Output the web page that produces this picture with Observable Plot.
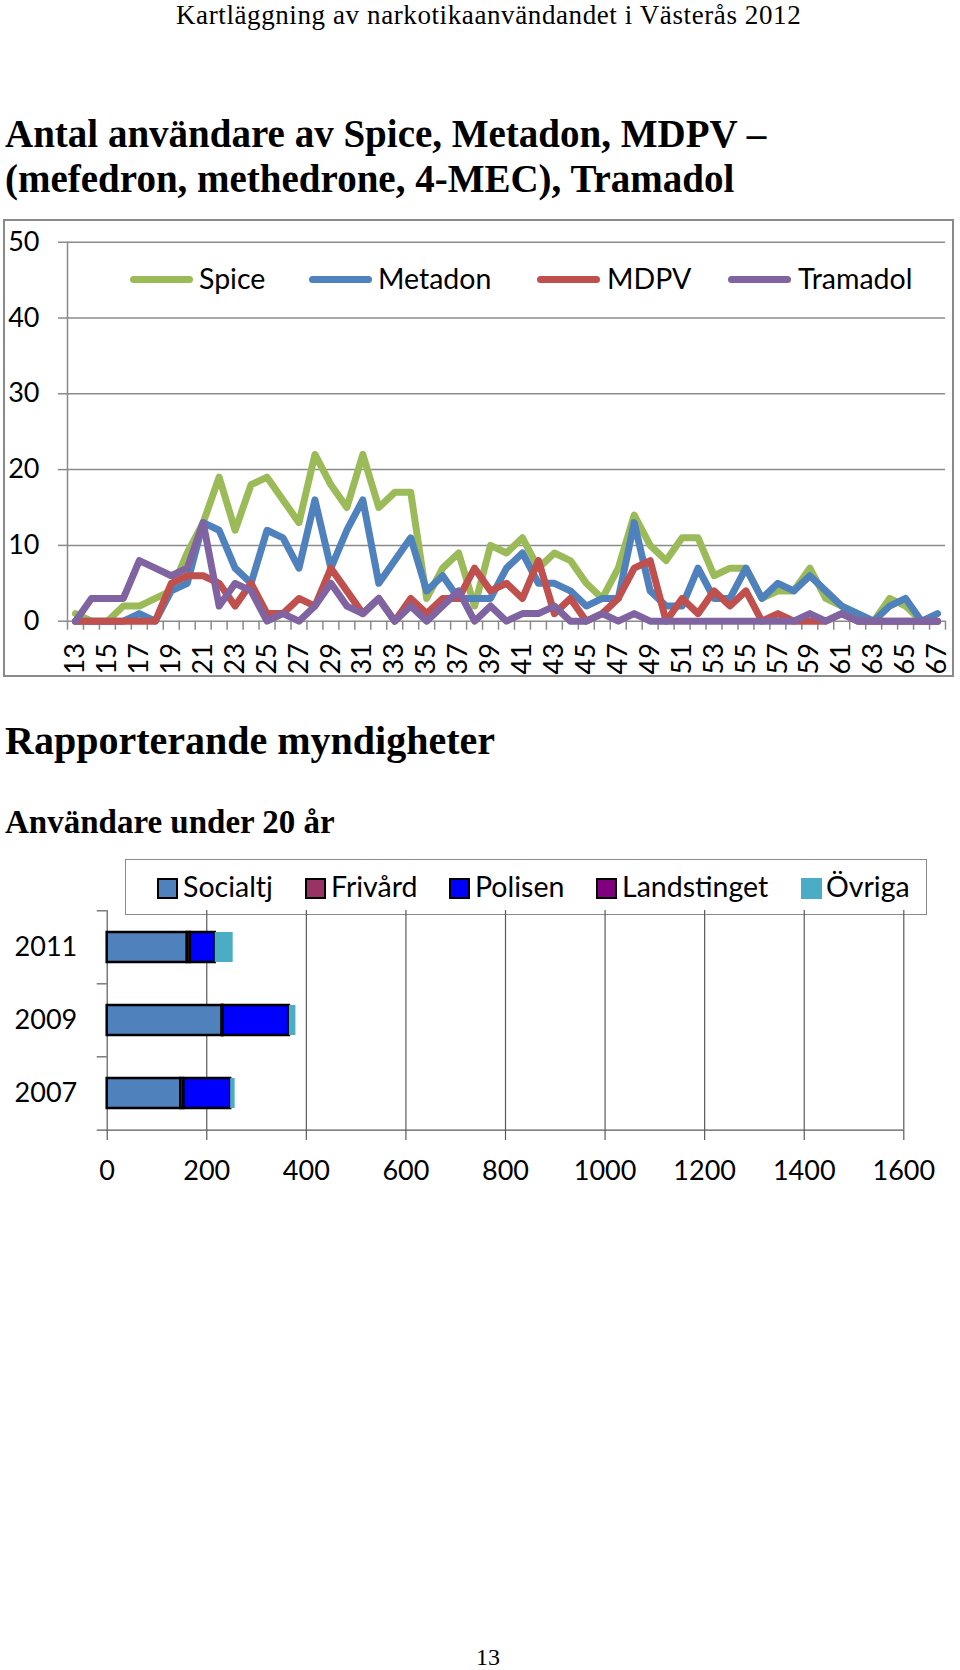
<!DOCTYPE html>
<html><head><meta charset="utf-8">
<script src="https://cdn.jsdelivr.net/npm/d3@7"></script>
<script src="https://cdn.jsdelivr.net/npm/@observablehq/plot@0.6"></script>
<style>
body{margin:0;background:#fff;}
#page{position:relative;width:960px;height:1670px;overflow:hidden;font-family:"Liberation Serif","Times New Roman",serif;color:#000;}
.abs{position:absolute;white-space:nowrap;line-height:1;}
.sans{font-family:Lato,sans-serif;font-size:28.5px;}
.lg-line{position:absolute;height:7px;border-radius:3.5px;}
.sw{position:absolute;width:17px;height:17px;border:2px solid #000;}
svg{position:absolute;left:0;overflow:visible;}
</style></head><body><div id="page">
<div class="abs" id="hdr" style="left:176px;top:2.4px;font-size:27px;letter-spacing:0.6px;">Kartläggning av narkotikaanvändandet i Västerås 2012</div>
<div class="abs" style="left:5px;top:113.8px;font-size:39px;font-weight:bold;">Antal användare av Spice, Metadon, MDPV –</div>
<div class="abs" style="left:5px;top:158.8px;font-size:39px;font-weight:bold;">(mefedron, methedrone, 4-MEC), Tramadol</div>
<div class="abs" style="left:3px;top:219px;width:947px;height:454px;border:2px solid #8a8a8a;"></div>
<div id="lg1"></div>
<div class="abs" style="left:5px;top:721.3px;font-size:40px;font-weight:bold;">Rapporterande myndigheter</div>
<div class="abs" style="left:5px;top:805.5px;font-size:33px;font-weight:bold;">Användare under 20 år</div>
<div class="abs" style="left:125px;top:859px;width:800px;height:54px;border:1.5px solid #8a8a8a;"></div>
<div id="lg2"></div>
<div id="c1"></div>
<div id="c2"></div>
<div class="abs" style="left:476px;top:1645px;font-size:24px;">13</div>
</div>
<script>
// ---- Chart 1 data ----
const ages = [13,14,15,16,17,18,19,20,21,22,23,24,25,26,27,28,29,30,31,32,33,34,35,36,37,38,39,40,41,42,43,44,45,46,47,48,49,50,51,52,53,54,55,56,57,58,59,60,61,62,63,64,65,66,67];
const spice    = [1,0,0,2,2,3,4,9,13,19,12,18,19,16,13,22,18,15,22,15,17,17,3,7,9,2,10,9,11,7,9,8,5,3,7,14,10,8,11,11,6,7,7,3,4,4,7,3,2,1,0,3,2,0,0];
const metadon  = [0,0,0,0,1,0,4,5,13,12,7,5,12,11,7,16,7,12,16,5,8,11,4,6,3,3,3,7,9,5,5,4,2,3,3,13,4,2,2,7,3,3,7,3,5,4,6,4,2,1,0,2,3,0,1];
const mdpv     = [0,0,0,0,0,0,5,6,6,5,2,5,1,1,3,2,7,4,1,3,0,3,1,3,3,7,4,5,3,8,1,3,0,1,3,7,8,0,3,1,4,2,4,0,1,0,0,0,1,0,0,0,0,0,0];
const tramadol = [0,3,3,3,8,7,6,7,13,2,5,4,0,1,0,2,5,2,1,3,0,2,0,2,4,0,2,0,1,1,2,0,0,1,0,1,0,0,0,0,0,0,0,0,0,0,1,0,1,0,0,0,0,0,0];
const seriesNames = ["Spice","Metadon","MDPV","Tramadol"];
const seriesColors = ["#9bbb59","#4f81bd","#c0504d","#8064a2"];
const yTicks1 = [0,10,20,30,40,50];

// ---- Chart 2 data ----
const years = ["2011","2009","2007"];
const sources = ["Socialtj","Frivård","Polisen","Landstinget","Övriga"];
const sourceColors = ["#4f81bd","#993366","#0000ff","#800080","#4bacc6"];
const socialtj    = [161,231,148];
const frivard     = [6,2,6];
const polisen     = [50,133,94];
const landstinget = [0,0,0];
const ovriga      = [36,13,9];
const xTicks2 = [0,200,400,600,800,1000,1200,1400,1600];

// ---- Chart 1 ----
const allSeries = [spice, metadon, mdpv, tramadol];
const lineData = seriesNames.flatMap((name, s) => ages.map((age, i) => ({age, value: allSeries[s][i], series: name})));
const bounds = ages.map(a => a - 0.5).concat([ages[ages.length - 1] + 0.5]);
const xLabels = ages.filter((a, i) => i % 2 === 0);
const grid = "#8a8a8a";

const c1 = Plot.plot({
  width: 960, height: 470,
  marginTop: 29.7, marginBottom: 61.3, marginLeft: 67, marginRight: 15,
  style: {fontFamily: "Lato", fontSize: "27px", background: "transparent", color: "black"},
  x: {domain: [bounds[0], bounds[bounds.length - 1]]},
  y: {domain: [0, 50]},
  color: {domain: seriesNames, range: seriesColors},
  marks: [
    Plot.ruleY(yTicks1, {stroke: grid, strokeWidth: 1.5}),
    Plot.axisY({ticks: yTicks1, tickSize: 9, tickPadding: 19, stroke: grid, strokeWidth: 1.5, label: null, tickFormat: d => String(d)}),
    Plot.ruleX([bounds[0]], {stroke: grid, strokeWidth: 1.5}),
    Plot.axisX({ticks: bounds, tickSize: 9, tickFormat: () => "", stroke: grid, strokeWidth: 1.5, label: null}),
    Plot.text(xLabels, {x: d => d, text: d => String(d), frameAnchor: "bottom", dy: 22, rotate: -90, textAnchor: "end", lineAnchor: "middle", fill: "black"}),
    Plot.line(lineData, {x: "age", y: "value", stroke: "series", z: "series", strokeWidth: 7, strokeLinejoin: "round", strokeLinecap: "round"})
  ]
});
c1.style.top = "212px";
document.getElementById("c1").appendChild(c1);

// legend 1
const lg1 = document.getElementById("lg1");
const lg1Pos = [[130, 199], [309, 378], [537, 607], [728, 798]];
seriesNames.forEach((n, i) => {
  const l = document.createElement("div");
  l.className = "lg-line";
  l.style.cssText = `left:${lg1Pos[i][0]}px;top:275.5px;width:63px;background:${seriesColors[i]};`;
  lg1.appendChild(l);
  const t = document.createElement("div");
  t.className = "abs sans";
  t.style.cssText = `left:${lg1Pos[i][1]}px;top:263.5px;`;
  t.textContent = n;
  lg1.appendChild(t);
});

// ---- Chart 2 ----
const allSources = [socialtj, frivard, polisen, landstinget, ovriga];
const barData = sources.flatMap((src, s) => years.map((year, i) => ({year, source: src, value: allSources[s][i]}))).filter(d => d.value > 0);
const h2 = 290, mt2 = 10, mb2 = 60;
const step2 = (h2 - mt2 - mb2) / years.length;
const dark = "#5a5a5a";

const c2 = Plot.plot({
  width: 960, height: h2,
  marginTop: mt2, marginBottom: mb2, marginLeft: 106.7, marginRight: 56.7,
  style: {fontFamily: "Lato", fontSize: "27px", background: "transparent", color: "black"},
  x: {domain: [0, 1600]},
  y: {domain: years, paddingInner: 0.59, paddingOuter: 0.295},
  color: {domain: sources, range: sourceColors},
  opacity: {type: "identity"},
  marks: [
    Plot.ruleX(xTicks2.slice(1), {stroke: dark, strokeWidth: 1.2}),
    Plot.axisX({ticks: xTicks2, tickSize: 10, tickPadding: 20, stroke: dark, strokeWidth: 1.2, label: null, tickFormat: d => String(d)}),
    Plot.ruleX([0], {stroke: dark, strokeWidth: 1.2}),
    Plot.ruleY(years, {y: d => d, dy: -step2 / 2, x1: -20, x2: 0, stroke: dark, strokeWidth: 1.2}),
    Plot.ruleY([years[years.length - 1]], {y: d => d, dy: step2 / 2, x1: -20, x2: 1600, stroke: dark, strokeWidth: 1.2}),
    Plot.axisY({tickSize: 0, tickPadding: 30, label: null}),
    Plot.barX(barData, Plot.stackX({x: "value", y: "year", fill: "source", order: sources, stroke: "black", strokeWidth: 2.5, strokeOpacity: d => d.source === "Övriga" ? 0 : 1}))
  ]
});
c2.style.top = "900px";
document.getElementById("c2").appendChild(c2);

// legend 2
const lg2 = document.getElementById("lg2");
const lg2Pos = [[157, 183], [305, 331], [449, 475], [596, 622], [801, 826]];
sources.forEach((n, i) => {
  const s = document.createElement("div");
  s.className = "sw";
  s.style.cssText = `left:${lg2Pos[i][0]}px;top:878px;background:${sourceColors[i]};` + (n === "Övriga" ? "border-color:transparent;" : "");
  lg2.appendChild(s);
  const t = document.createElement("div");
  t.className = "abs sans";
  t.style.cssText = `left:${lg2Pos[i][1]}px;top:872px;`;
  t.textContent = n;
  lg2.appendChild(t);
});
</script>
</body></html>
